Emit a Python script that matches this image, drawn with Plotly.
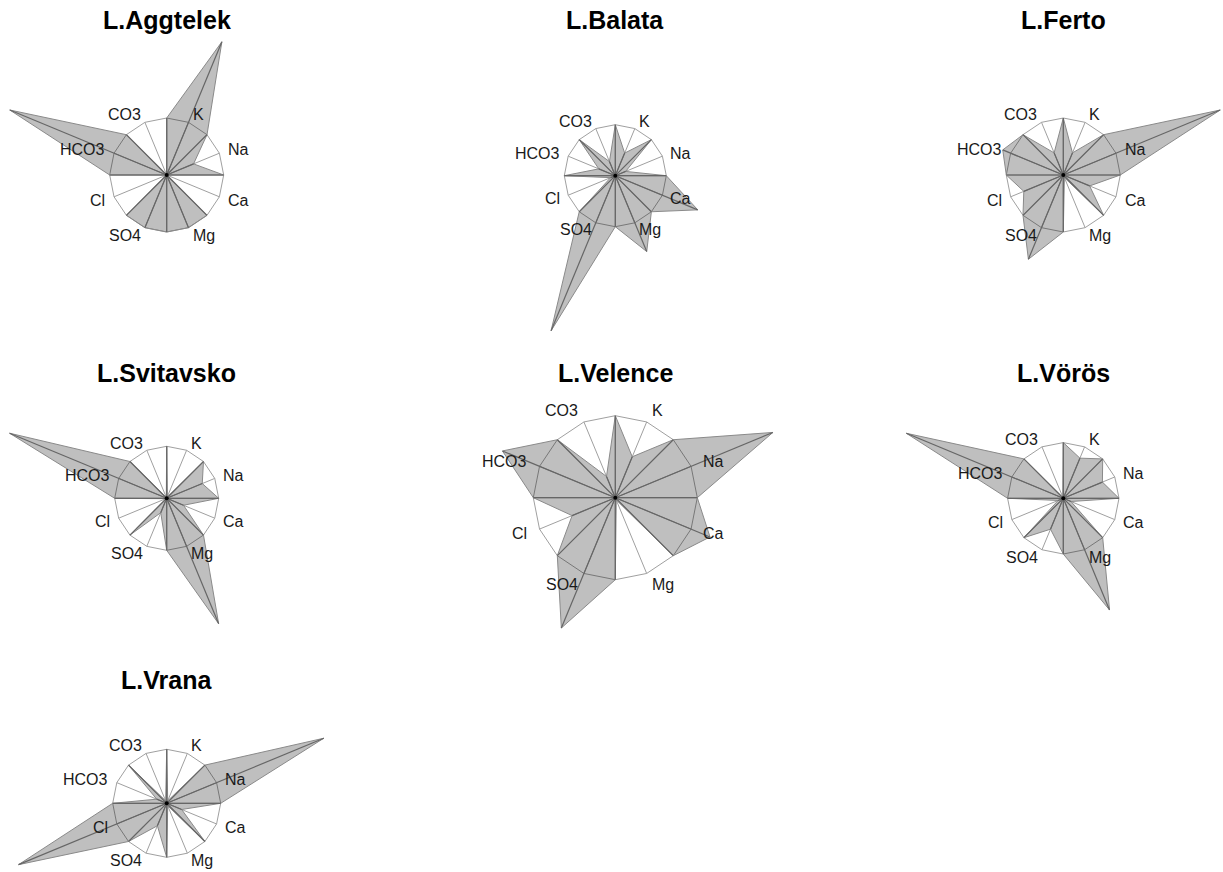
import numpy as np
import plotly.graph_objects as go

# Ion order around each star, counter-clockwise from the east side
IONS = ["Na", "K", "CO3", "HCO3", "Cl", "SO4", "Mg", "Ca"]

# Scaled ion values per lake (1 = reference ring)
aggtelek = [0.51, 2.53, 0.00, 2.98, 0.00, 1.00, 1.00, 0.00]
balata = [0.22, 0.48, 0.30, 0.35, 0.10, 3.29, 1.61, 1.75]
ferto = [2.98, 0.42, 0.42, 1.15, 0.75, 1.60, 0.05, 0.50]
svitavsko = [0.74, 0.03, 0.02, 3.27, 0.02, 0.30, 2.61, 0.35]
velence = [2.08, 0.54, 0.28, 1.49, 0.57, 1.72, 0.03, 1.25]
voros = [0.76, 0.78, 0.02, 3.05, 0.10, 0.60, 2.17, 0.15]
vrana = [3.15, 0.05, 0.05, 0.20, 2.97, 0.45, 0.05, 0.30]

LAKES = ["L.Aggtelek", "L.Balata", "L.Ferto", "L.Svitavsko",
         "L.Velence", "L.Vörös", "L.Vrana"]
VALUES = [aggtelek, balata, ferto, svitavsko, velence, voros, vrana]

# Reference ring value used on the spokes between ions
RING = 1.0

W, H = 1223, 872
# Panel layout: centre (px), pixels per unit, title height (px)
PANELS = [
    (166.7, 175.0, 57.0, 20),
    (615.3, 175.7, 51.0, 20),
    (1063.3, 175.0, 57.0, 20),
    (166.7, 498.3, 52.0, 373),
    (615.3, 497.7, 82.0, 373),
    (1063.3, 498.3, 55.7, 373),
    (166.7, 803.3, 54.0, 680),
]

GRID = "#a0a0a0"
SPOKE = "#666666"

fig = go.Figure()
layout = dict(
    width=W, height=H,
    margin=dict(l=0, r=0, t=0, b=0),
    paper_bgcolor="white",
    plot_bgcolor="rgba(0,0,0,0)",
    showlegend=False,
    annotations=[],
)

n = len(IONS)
ring_ang = np.deg2rad(np.arange(2 * n) * 180.0 / n)  # 16 spokes

for i, (lake, vals) in enumerate(zip(LAKES, VALUES)):
    cx, cy, scale, ty = PANELS[i]
    ax = "" if i == 0 else str(i + 1)
    xa, ya = "x" + ax, "y" + ax

    # unit 16-gon and its spokes
    gx = list(np.cos(ring_ang)) + [np.cos(ring_ang[0])]
    gy = list(np.sin(ring_ang)) + [np.sin(ring_ang[0])]
    fig.add_trace(go.Scatter(x=gx, y=gy, mode="lines",
                             line=dict(color=GRID, width=1),
                             xaxis=xa, yaxis=ya, hoverinfo="skip"))
    sx, sy = [], []
    for a in ring_ang:
        sx += [0, np.cos(a), None]
        sy += [0, np.sin(a), None]
    fig.add_trace(go.Scatter(x=sx, y=sy, mode="lines",
                             line=dict(color=GRID, width=1),
                             xaxis=xa, yaxis=ya, hoverinfo="skip"))

    # star polygon: ring spoke, ion spoke, ring spoke, ...
    radii = []
    for v in vals:
        radii += [RING, v]
    radii = np.array(radii)
    px = radii * np.cos(ring_ang)
    py = radii * np.sin(ring_ang)
    fig.add_trace(go.Scatter(x=list(px) + [px[0]], y=list(py) + [py[0]],
                             mode="lines", fill="toself",
                             fillcolor="rgba(0,0,0,0.25)",
                             line=dict(color="#8a8a8a", width=1),
                             xaxis=xa, yaxis=ya, hoverinfo="skip"))
    dx, dy = [], []
    for x_, y_ in zip(px, py):
        dx += [0, x_, None]
        dy += [0, y_, None]
    fig.add_trace(go.Scatter(x=dx, y=dy, mode="lines",
                             line=dict(color=SPOKE, width=1.2),
                             xaxis=xa, yaxis=ya, hoverinfo="skip"))
    fig.add_trace(go.Scatter(x=[0], y=[0], mode="markers",
                             marker=dict(color="black", size=4),
                             xaxis=xa, yaxis=ya, hoverinfo="skip"))

    # ion labels
    for j, ion in enumerate(IONS):
        a = np.deg2rad(22.5 + 45.0 * j)
        c, s = np.cos(a), np.sin(a)
        layout["annotations"].append(dict(
            x=1.15 * c, y=1.15 * s, xref=xa, yref=ya, text=ion,
            showarrow=False, xanchor="left" if c > 0 else "right",
            yanchor="middle", borderpad=0,
            font=dict(family="Liberation Sans, Arial", size=16, color="#1a1a1a")))

    # panel title
    layout["annotations"].append(dict(
        x=cx / W, y=1 - ty / H, xref="paper", yref="paper",
        text="<b>" + lake + "</b>", showarrow=False,
        xanchor="center", yanchor="middle",
        font=dict(family="Liberation Sans, Arial", size=25, color="black")))

    axis_common = dict(domain=[0, 1], visible=False, showgrid=False,
                       zeroline=False, fixedrange=True)
    layout["xaxis" + ax] = dict(axis_common, anchor=ya,
                                range=[-cx / scale, (W - cx) / scale])
    layout["yaxis" + ax] = dict(axis_common, anchor=xa,
                                range=[-(H - cy) / scale, cy / scale])

fig.update_layout(**layout)
fig.write_html("out.html")
